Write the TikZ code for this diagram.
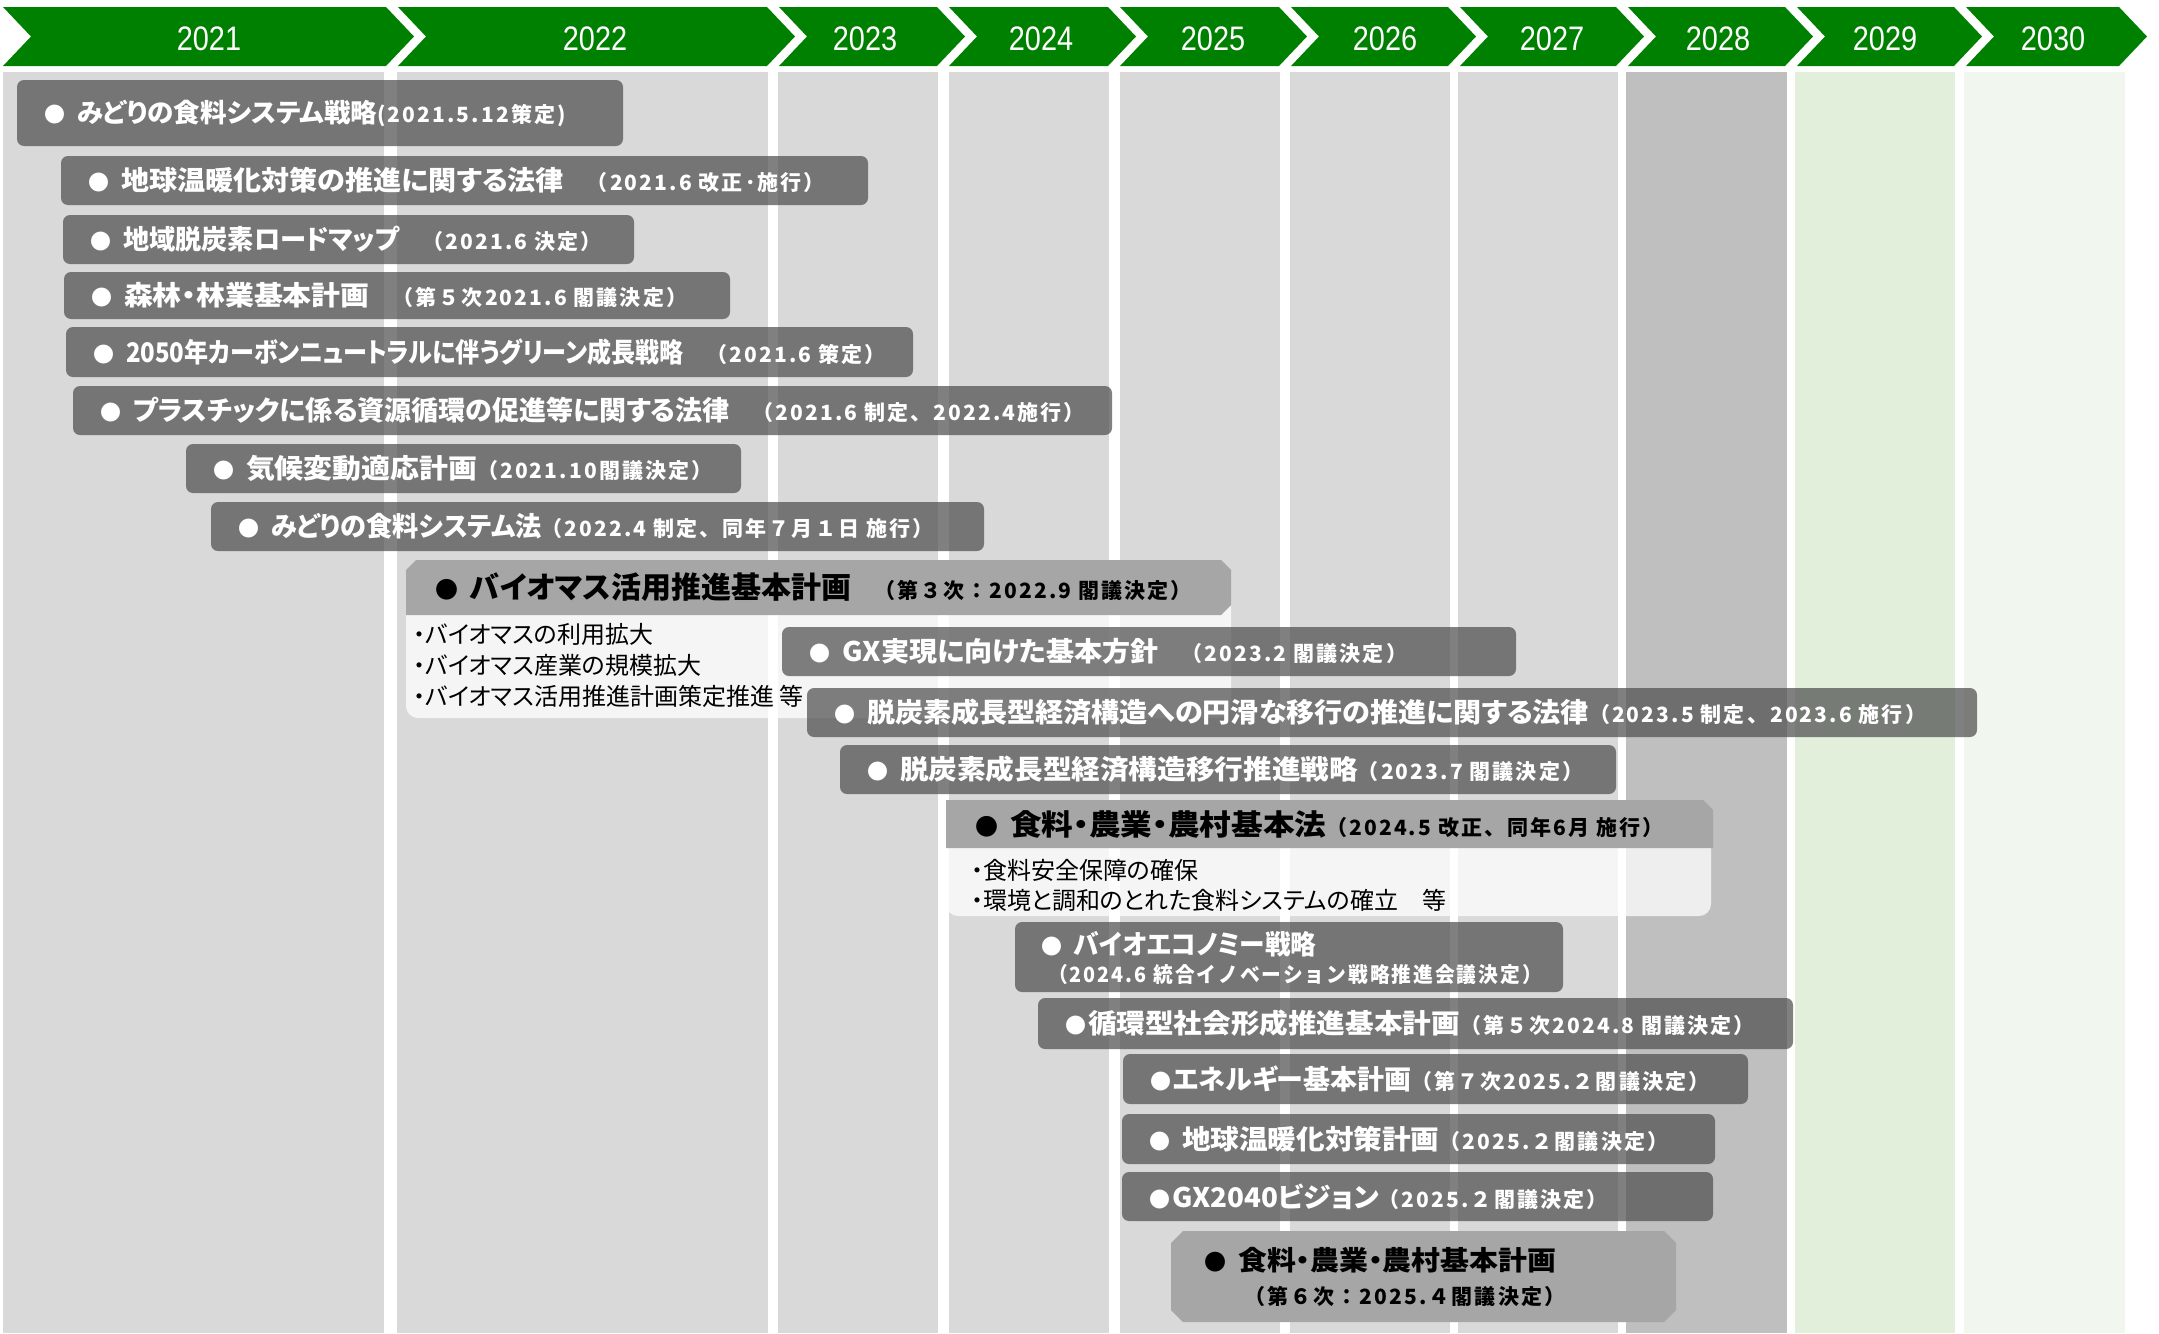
\documentclass[tikz,border=0pt]{standalone}
\usepackage{fontspec}
\usepackage{graphicx}
\setmainfont{Noto Sans CJK JP}[RawFeature=+palt]
\newfontfamily\pfont{Noto Sans CJK JP}[LetterSpace=10]
\newfontfamily\yearfont{Liberation Sans}[FakeStretch=0.85]
\usetikzlibrary{fit}
\definecolor{hgreen}{HTML}{008000}
\definecolor{colgray}{HTML}{D9D9D9}
\definecolor{coleight}{HTML}{BFBFBF}
\definecolor{colnine}{HTML}{E2EFDA}
\definecolor{colten}{HTML}{F1F7EE}
\definecolor{boxgray}{HTML}{4F4F4F}
\definecolor{hdgray}{HTML}{A6A6A6}
\newcommand\fsz[1]{\fontsize{#1pt}{#1pt}\selectfont}
\newcommand\sx[2]{\scalebox{#1}[1]{#2}}
\newcommand\pp[2][21]{{\pfont\fsz{#1}#2}}
\tikzset{
  gbox/.style={fill=boxgray, fill opacity=0.72, rounded corners=7pt, inner sep=0pt, draw=none},
  wtxt/.style={text=white, font=\bfseries, anchor=west, inner sep=0pt},
  ktxt/.style={text=black, font=\bfseries, anchor=west, inner sep=0pt},
  btxt/.style={text=black, anchor=west, inner sep=0pt},
  yeartxt/.style={text=white, font={\yearfont\fsz{34}}, inner sep=0pt},
}
\newcommand\gb[5]{\node[gbox, fit={(#2,#3) (#4,#5)}] (#1) {};}
\newcommand\bul{{\fsz{21}●}}
\begin{document}
\begin{tikzpicture}[x=1pt,y=-1pt]
\useasboundingbox (0,0) rectangle (2159,1333);
\fill[white] (0,0) rectangle (2159,1333);
% columns
\foreach \a/\b/\c in {3/384/colgray, 397/768/colgray, 778/938/colgray, 949/1109/colgray, 1120/1280/colgray, 1290/1450/colgray, 1458/1618/colgray, 1626/1787/coleight, 1795/1955/colnine, 1964/2125/colten}
  \fill[\c] (\a,72) rectangle (\b,1333);
% header chevrons
\foreach \L/\R/\yr/\cx in {3/386/2021/209, 398/767/2022/595, 779/937/2023/865, 949/1108/2024/1041, 1120/1279/2025/1213, 1291/1448/2026/1385, 1460/1616/2027/1552, 1628/1785/2028/1718, 1797/1954/2029/1885, 1966/2119/2030/2053}{
  \fill[hgreen] (\L,7) -- (\R,7) -- (\R+28,36.5) -- (\R,66) -- (\L,66) -- (\L+28,36.5) -- cycle;
  \node[yeartxt] (y\yr) at (\cx,39) {\yr};
}
% biomass plan (header + body)
\fill[white, fill opacity=0.75, rounded corners=12pt] (406,590) rectangle (1231,718);
\fill[hdgray] (416,560) -- (1221,560) -- (1231,570) -- (1231,605) -- (1221,615) -- (406,615) -- (406,570) -- cycle;
\coordinate (b9) at (406,587.5);
\node[ktxt] (t9) at ([xshift=29pt]b9) {\fsz{23}●\hspace{12pt}\fsz{30}バイオマス活用推進基本計画\pp[21]{　（第３次：2022.9 閣議決定）}};
\node[btxt] (t9a) at (413,634) {\fsz{24}・バイオマスの利用拡大};
\node[btxt] (t9b) at (413,665) {\fsz{24}・バイオマス産業の規模拡大};
\node[btxt] (t9c) at (413,696) {\fsz{24}・バイオマス活用推進計画策定推進 等};
% food law (header + body)
\fill[white, fill opacity=0.75, rounded corners=12pt] (946,830) rectangle (1711,916);
\fill[hdgray] (946,800) -- (1703,800) -- (1713,810) -- (1713,848) -- (946,848) -- cycle;
\coordinate (b13) at (946,824);
\node[ktxt] (t13) at ([xshift=29pt]b13) {\fsz{23}●\hspace{12pt}\fsz{29}\sx{1.09}{食料・農業・農村基本法}\pp[21]{（2024.5 改正、同年6月 施行）}};
\node[btxt] (t13a) at (971,870) {\fsz{24}・食料安全保障の確保};
\node[btxt] (t13b) at (971,900) {\fsz{24}・環境と調和のとれた食料システムの確立　等};
% gray boxes
\gb{b1}{17}{80}{623}{146}
\gb{b2}{61}{156}{868}{205}
\gb{b3}{63}{215}{634}{264}
\gb{b4}{64}{272}{730}{319}
\gb{b5}{66}{327}{913}{377}
\gb{b6}{73}{386}{1112}{435}
\gb{b7}{186}{444}{741}{493}
\gb{b8}{211}{502}{984}{551}
\gb{b10}{782}{627}{1516}{676}
\gb{b11}{807}{688}{1977}{737}
\gb{b12}{840}{745}{1616}{794}
\gb{b14}{1015}{922}{1563}{992}
\gb{b15}{1038}{998}{1793}{1049}
\gb{b16}{1123}{1054}{1748}{1104}
\gb{b17}{1122}{1114}{1715}{1164}
\gb{b18}{1122}{1172}{1713}{1221}
% texts
\node[wtxt] (t1) at ([xshift=27pt]b1.west) {\bul\hspace{12pt}\fsz{26}\sx{1.02}{みどりの食料システム戦略}\pp{(2021.5.12策定)}};
\node[wtxt] (t2) at ([xshift=27pt]b2.west) {\bul\hspace{12pt}\fsz{27}\sx{1.04}{地球温暖化対策の推進に関する法律}\pp{　（2021.6 改正･施行）}};
\node[wtxt] (t3) at ([xshift=27pt]b3.west) {\bul\hspace{12pt}\fsz{27}\sx{0.97}{地域脱炭素ロードマップ}\pp{　（2021.6 決定）}};
\node[wtxt] (t4) at ([xshift=27pt]b4.west) {\bul\hspace{12pt}\fsz{27}\sx{1.07}{森林・林業基本計画}\pp{　（第５次2021.6 閣議決定）}};
\node[wtxt] (t5) at ([xshift=27pt]b5.west) {\bul\hspace{12pt}\fsz{27}\sx{0.89}{2050年カーボンニュートラルに伴うグリーン成長戦略}\pp{　（2021.6 策定）}};
\node[wtxt] (t6) at ([xshift=27pt]b6.west) {\bul\hspace{12pt}\fsz{27}プラスチックに係る資源循環の促進等に関する法律\pp{　（2021.6 制定、2022.4施行）}};
\node[wtxt] (t7) at ([xshift=27pt]b7.west) {\bul\hspace{12pt}\fsz{27}\sx{1.07}{気候変動適応計画}\pp{（2021.10閣議決定）}};
\node[wtxt] (t8) at ([xshift=27pt]b8.west) {\bul\hspace{12pt}\fsz{27}\sx{0.97}{みどりの食料システム法}\pp{（2022.4 制定、同年７月１日 施行）}};
\node[wtxt] (t10) at ([xshift=27pt]b10.west) {\bul\hspace{12pt}\fsz{27}\sx{1.04}{GX実現に向けた基本方針}\pp{　（2023.2 閣議決定）}};
\node[wtxt] (t11) at ([xshift=27pt]b11.west) {\bul\hspace{12pt}\fsz{27}\sx{1.04}{脱炭素成長型経済構造への円滑な移行の推進に関する法律}\pp{（2023.5 制定、2023.6 施行）}};
\node[wtxt] (t12) at ([xshift=27pt]b12.west) {\bul\hspace{12pt}\fsz{27}\sx{1.06}{脱炭素成長型経済構造移行推進戦略}\pp{（2023.7 閣議決定）}};
\node[wtxt] (t14a) at (1041,944) {\bul\hspace{12pt}\fsz{27}\sx{0.95}{バイオエコノミー戦略}};
\node[wtxt] (t14b) at (1048,975) {\sx{0.94}{\pp{（2024.6 統合イノベーション戦略推進会議決定）}}};
\node[wtxt] (t15) at ([xshift=27pt]b15.west) {\bul\hspace{2pt}\fsz{27}\sx{1.06}{循環型社会形成推進基本計画}\pp{（第５次2024.8 閣議決定）}};
\node[wtxt] (t16) at ([xshift=27pt]b16.west) {\bul\hspace{2pt}\fsz{27}エネルギー基本計画\pp{（第７次2025.２閣議決定）}};
\node[wtxt] (t17) at ([xshift=27pt]b17.west) {\bul\hspace{12pt}\fsz{27}\sx{1.06}{地球温暖化対策計画}\pp{（2025.２閣議決定）}};
\node[wtxt] (t18) at ([xshift=27pt]b18.west) {\bul\hspace{2pt}\fsz{27}\sx{1.03}{GX2040ビジョン}\pp{（2025.２閣議決定）}};
% food/agri basic plan
\fill[hdgray] (1183,1231) -- (1664,1231) -- (1676,1243) -- (1676,1310) -- (1664,1322) -- (1183,1322) -- (1171,1310) -- (1171,1243) -- cycle;
\node[ktxt] (t19a) at (1204,1260) {\fsz{22}●\hspace{12pt}\fsz{27}\sx{1.07}{食料・農業・農村基本計画}};
\node[ktxt] (t19b) at (1244,1296) {\pp{（第６次：2025.４閣議決定）}};
\end{tikzpicture}
\end{document}
